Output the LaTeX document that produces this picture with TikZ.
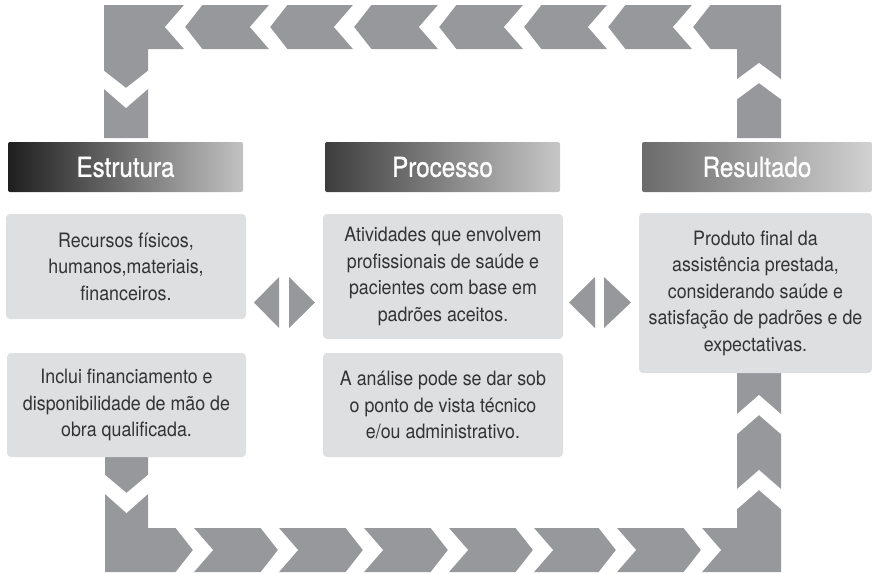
\documentclass[tikz,border=0pt]{standalone}
\usepackage{fontspec}
\setmainfont[FakeStretch=0.9]{TeX Gyre Heros}
\newfontfamily\headfont[FakeStretch=0.88,FakeBold=0.9]{TeX Gyre Heros}
\definecolor{band}{HTML}{97989B}
\definecolor{boxfill}{HTML}{DEDFE0}
\definecolor{txt}{HTML}{333333}
\begin{document}
\begin{tikzpicture}[x=1pt,y=-1pt,
  bodybox/.style={fill=boxfill, rounded corners=4pt, inner sep=0pt, outer sep=0pt,
    align=center, text=txt, font=\fontsize{19.8}{26.5}\selectfont},
  headbox/.style={rounded corners=2pt, inner sep=0pt, outer sep=0pt,
    minimum height=50pt, text=white, font=\headfont\fontsize{27.5}{30}\selectfont},
  gap/.style={fill=white},
  tri/.style={fill=band}]
\useasboundingbox (0,0) rectangle (872,573);

% top band
\fill[band] (104,5) -- (781,5) -- (781,138) -- (737,138) -- (737,49) -- (148,49) -- (148,138) -- (104,138) -- cycle;
\foreach \s in {203,288,372,457,542,626,711}
  \fill[gap] (\s-18,4) -- (\s-38,27) -- (\s-18,50) -- (\s,50) -- (\s-18,27) -- (\s,4) -- cycle;
\fill[gap] (103,70) -- (126,88) -- (149,70) -- (149,88) -- (126,108) -- (103,88) -- cycle;
\fill[gap] (736,80) -- (759,63) -- (782,80) -- (782,100) -- (759,83) -- (736,100) -- cycle;

% bottom band
\fill[band] (105,457) -- (148,457) -- (148,528) -- (737,528) -- (737,373) -- (781,373) -- (781,572) -- (105,572) -- cycle;
\foreach \s in {175,260,345,430,515,598,683}
  \fill[gap] (\s,527) -- (\s+18,550) -- (\s,573) -- (\s+18,573) -- (\s+38,550) -- (\s+18,527) -- cycle;
\fill[gap] (104,474) -- (126.5,493) -- (149,474) -- (149,493) -- (126.5,513) -- (104,493) -- cycle;
\foreach \t in {395,470}
  \fill[gap] (736,\t+20) -- (759,\t) -- (782,\t+20) -- (782,\t+40) -- (759,\t+20) -- (736,\t+40) -- cycle;

% headers
\node[headbox, minimum width=235pt, left color=black!88, middle color=black!62, right color=black!24] (estr) at (125.5,167) {Estrutura};
\node[headbox, minimum width=235pt, left color=black!76, middle color=black!56, right color=black!22] (proc) at (442.5,167) {Processo};
\node[headbox, minimum width=230pt, left color=black!58, middle color=black!42, right color=black!18] (resu) at (757,167) {Resultado};

% body boxes
\node[bodybox, minimum width=240pt, minimum height=105pt] (e1) at (126,266.5)
  {Recursos físicos,\\humanos,materiais,\\financeiros.};
\node[bodybox, minimum width=239pt, minimum height=104pt] (e2) at (126.5,405)
  {Inclui financiamento e\\disponibilidade de mão de\\obra qualificada.};
\node[bodybox, minimum width=240pt, minimum height=125pt] (p1) at (443,276.5)
  {Atividades que envolvem\\profissionais de saúde e\\pacientes com base em\\padrões aceitos.};
\node[bodybox, minimum width=240pt, minimum height=104pt] (p2) at (443,405)
  {A análise pode se dar sob\\o ponto de vista técnico\\e/ou administrativo.};
\node[bodybox, minimum width=233pt, minimum height=160pt] (r1) at (755.5,293)
  {Produto final da\\assistência prestada,\\considerando saúde e\\satisfação de padrões e de\\expectativas.};

% double arrows
\fill[tri] (279,277) -- (279,328) -- (254,302.5) -- cycle;
\fill[tri] (289,277) -- (289,328) -- (315,302.5) -- cycle;
\fill[tri] (595,277) -- (595,328) -- (569,302.5) -- cycle;
\fill[tri] (604,277) -- (604,328) -- (631,302.5) -- cycle;
\end{tikzpicture}
\end{document}
